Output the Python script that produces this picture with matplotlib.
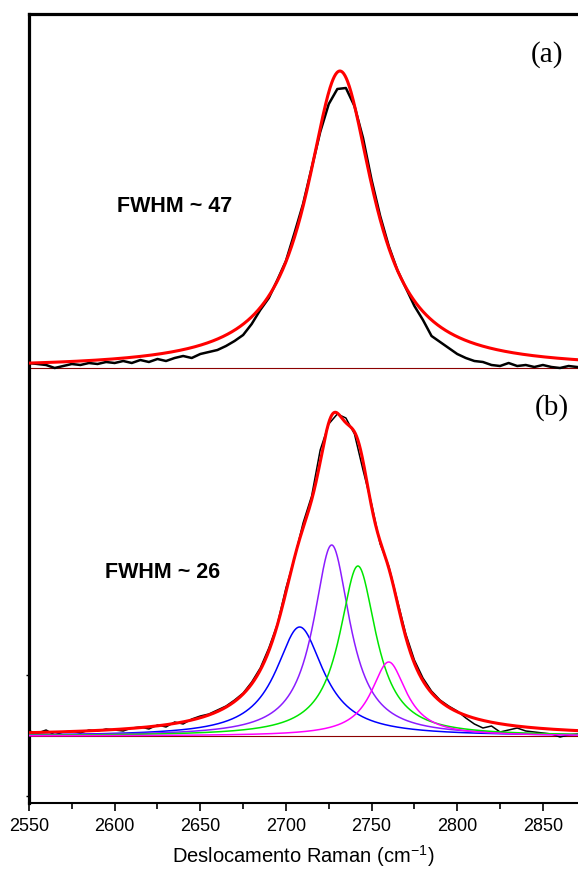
import numpy as np
import matplotlib
matplotlib.use('Agg')
import matplotlib.pyplot as plt
from matplotlib.ticker import MultipleLocator

plt.rcParams['font.family'] = ['Liberation Sans', 'DejaVu Sans']
plt.rcParams['mathtext.fontset'] = 'custom'
plt.rcParams['mathtext.rm'] = 'Liberation Sans'
plt.rcParams['mathtext.it'] = 'Liberation Sans:italic'

shift = np.arange(2550, 2871, 5)
spec_a = [5, 4, 3, 0, 2, 4, 3, 5, 4, 6, 5, 7, 5, 8, 6, 9, 7, 10, 12, 10,
          14, 16, 18, 22, 27, 33, 44, 58, 70, 88, 107, 135, 164, 200, 236, 264,
          279, 280, 262, 230, 188, 152, 122, 98, 80, 62, 48, 32, 26, 20, 14, 10,
          7, 6, 3, 2, 5, 2, 3, 1, 3, 1, 0, 2, 1]
spec_b = [5, 3, 6, 1, 4, 5, 3, 6, 5, 7, 6, 5, 8, 9, 7, 11, 9, 14, 12, 17,
          20, 22, 26, 30, 36, 43, 54, 68, 88, 112, 148, 178, 213, 240, 286, 312,
          322, 318, 302, 266, 232, 192, 170, 136, 102, 76, 58, 45, 36, 30, 25, 18,
          12, 8, 10, 4, 6, 8, 5, 4, 3, 2, -1, 1, 2]

# Lorentzian fit parameters (center cm-1, FWHM cm-1, height a.u.)
fit_a_center, fit_a_fwhm, fit_a_height = 2731.5, 47, 297
comp_centers = [2708, 2726.7, 2742, 2760]
comp_fwhm = [34, 26, 26, 25]
comp_heights = [109, 191, 170, 74]
comp_colors = ['#0000ff', '#8b1cff', '#00e600', '#ff00ff']

offset_a = 368  # vertical shift of panel (a)


def lorentz(x, c, fwhm, h):
    hw = fwhm / 2.0
    return h / (1.0 + ((x - c) / hw) ** 2)


xs = np.linspace(2550, 2875, 1301)

fig = plt.figure(figsize=(5.78, 8.70), dpi=100)
ax = fig.add_axes([29 / 578, 1 - 804 / 870, 1 - 29 / 578, (804 - 15) / 870])

# baselines
ax.axhline(0, color='#8b0000', lw=0.8, zorder=1)
ax.axhline(offset_a, color='#8b0000', lw=0.8, zorder=1)

# panel (a)
ax.plot(shift, np.array(spec_a) + offset_a, color='black', lw=1.8, zorder=2)
ax.plot(xs, lorentz(xs, fit_a_center, fit_a_fwhm, fit_a_height) + offset_a,
        color='#ff0000', lw=2.2, zorder=3)

# panel (b)
ax.plot(shift, spec_b, color='black', lw=1.1, zorder=2)
total = np.zeros_like(xs)
for c, w, h in zip(comp_centers, comp_fwhm, comp_heights):
    total += lorentz(xs, c, w, h)
ax.plot(xs, total, color='#ff0000', lw=2.2, zorder=3)
for c, w, h, col in zip(comp_centers, comp_fwhm, comp_heights, comp_colors):
    ax.plot(xs, lorentz(xs, c, w, h), color=col, lw=1.1, zorder=4)

ax.set_xlim(2550, 2870.5)
ax.set_ylim(-67, 722)

ax.spines['right'].set_visible(False)
ax.spines['left'].set_linewidth(2.3)
ax.spines['top'].set_linewidth(2.3)
ax.spines['bottom'].set_linewidth(1.5)

ax.xaxis.set_major_locator(MultipleLocator(50))
ax.xaxis.set_minor_locator(MultipleLocator(25))
ax.tick_params(axis='x', which='major', direction='out', length=6, width=1.2,
               labelsize=13, pad=4)
ax.tick_params(axis='x', which='minor', direction='out', length=4.5, width=1.2)
ax.set_yticks([-60, 61])
ax.set_yticklabels([])
ax.tick_params(axis='y', which='major', direction='out', length=2, width=1)

ax.set_xlabel('Deslocamento Raman (cm$^{-1}$)', fontsize=14.5, labelpad=6)

ax.text(2635, 531, 'FWHM ~ 47', fontsize=15.5, fontweight='bold',
        ha='center', va='center')
ax.text(2628, 164, 'FWHM ~ 26', fontsize=15.5, fontweight='bold',
        ha='center', va='center')
ax.text(2852.5, 682, '(a)', fontsize=21, family=['Liberation Serif'],
        ha='center', va='center')
ax.text(2855, 329, '(b)', fontsize=21, family=['Liberation Serif'],
        ha='center', va='center')

fig.savefig('out.png', dpi=100)
